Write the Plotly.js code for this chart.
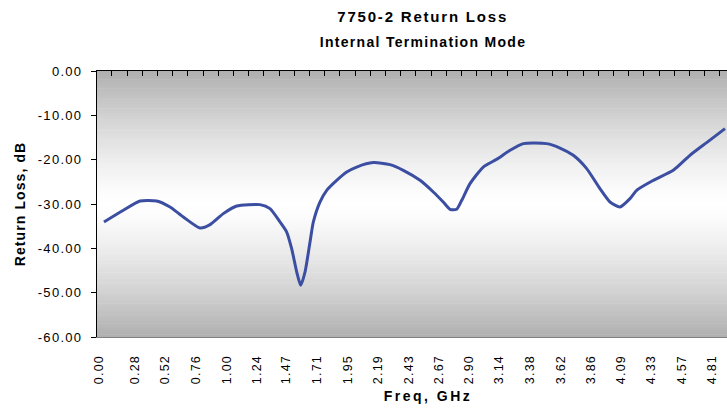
<!DOCTYPE html>
<html>
<head>
<meta charset="utf-8">
<script src="https://cdn.plot.ly/plotly-3.0.1.min.js"></script>
<style>
  html, body { margin: 0; padding: 0; overflow: hidden; background: #ffffff; }
  #chart { width: 760px; height: 408px; }
  .main-svg text { letter-spacing: 1.3px; }
  .main-svg .gtitle { letter-spacing: 1.8px; }
  .main-svg .xtitle { letter-spacing: 2.5px; }
  .main-svg .ytitle { letter-spacing: 1.1px; }
  .main-svg .xtick text { letter-spacing: 1.2px; }
</style>
</head>
<body>
<div id="chart"></div>
<script>
// Frequency (GHz) and return loss (dB)
const freqGHz = [
  0.039, 0.191, 0.322, 0.452, 0.557, 0.661, 0.792, 0.871, 0.975, 1.080,
  1.263, 1.341, 1.420, 1.472, 1.511, 1.551, 1.582, 1.616, 1.655, 1.681,
  1.733, 1.786, 1.864, 1.943, 2.021, 2.151, 2.282, 2.387, 2.518, 2.622,
  2.700, 2.753, 2.805, 2.845, 2.910, 3.014, 3.119, 3.224, 3.328, 3.511,
  3.616, 3.720, 3.825, 3.929, 4.008, 4.086, 4.165, 4.217, 4.348, 4.504,
  4.635, 4.766, 4.910
];
const returnLossDb = [
  -34.06, -31.42, -29.33, -29.33, -30.68, -32.93, -35.41, -34.65, -32.17, -30.45,
  -30.14, -31.04, -34.06, -36.32, -40.06, -45.34, -48.34, -45.34, -38.57, -34.06,
  -29.55, -26.91, -24.66, -22.78, -21.66, -20.66, -21.11, -22.40, -24.66, -27.29,
  -29.55, -31.20, -31.20, -29.17, -25.40, -21.66, -19.92, -17.89, -16.38, -16.38,
  -17.37, -19.02, -22.02, -26.53, -29.55, -30.68, -28.78, -26.91, -24.66, -22.40,
  -19.02, -16.15, -13.00
];
const xTickLabels = [
  '0.00', '0.28', '0.52', '0.76', '1.00', '1.24', '1.47', '1.71', '1.95', '2.19',
  '2.43', '2.67', '2.90', '3.14', '3.38', '3.62', '3.86', '4.09', '4.33', '4.57', '4.81'
];
const yTickValues = [0, -10, -20, -30, -40, -50, -60];
const yTickLabels = ['0.00', '-10.00', '-20.00', '-30.00', '-40.00', '-50.00', '-60.00'];

const chartTitle = '7750-2 Return Loss';
const chartSubtitle = 'Internal Termination Mode';
const xTitle = 'Freq, GHz';
const yTitle = 'Return Loss, dB';

// --- build figure ---
const xRange = [-0.0157, 5.1766];
const categoryStep = 0.11922;

// Vertical gray-white-gray background gradient made of thin strips
const strips = [];
const N = 120;
for (let i = 0; i < N; i++) {
  const t = (i + 0.5) / N;
  const d = Math.abs(t - 0.5) * 2;
  const g = Math.round(255 - 80 * Math.pow(d, 1.35));
  strips.push({
    type: 'rect', layer: 'below',
    xref: 'x domain', yref: 'y domain',
    x0: 0, x1: 1, y0: i / N, y1: (i + 1) / N + 0.002,
    line: { width: 0 },
    fillcolor: `rgb(${g},${g},${g})`
  });
}

const curve = {
  type: 'scatter', mode: 'lines',
  x: freqGHz, y: returnLossDb,
  xaxis: 'x', yaxis: 'y',
  line: { color: '#3b4ea2', width: 3, shape: 'spline', smoothing: 0.6 },
  hoverinfo: 'skip', showlegend: false
};
// draws nothing; only attaches the top (category tick) axis to the same data
const topAxisAnchor = {
  type: 'scatter', mode: 'none',
  x: freqGHz, y: returnLossDb,
  xaxis: 'x2', yaxis: 'y',
  hoverinfo: 'skip', showlegend: false
};

const baseFont = { family: 'Liberation Sans, Arial, sans-serif', color: '#000000' };

const layout = {
  width: 760, height: 408,
  margin: { l: 97, r: 1, t: 71, b: 71, pad: 0 },
  paper_bgcolor: '#ffffff', plot_bgcolor: '#ffffff',
  font: Object.assign({ size: 13 }, baseFont),
  showlegend: false,
  title: {
    text: chartTitle,
    font: Object.assign({ size: 15, weight: 'bold' }, baseFont),
    xref: 'paper', x: 0.492, xanchor: 'center',
    yref: 'container', y: 0.972, yanchor: 'top'
  },
  annotations: [{
    text: chartSubtitle, showarrow: false,
    xref: 'paper', x: 0.492, xanchor: 'center',
    yref: 'paper', y: 1.11, yanchor: 'middle',
    font: Object.assign({ size: 14, weight: 'bold' }, baseFont)
  }],
  xaxis: {
    type: 'linear', range: xRange,
    tickmode: 'array', tickvals: xTickLabels.map(Number), ticktext: xTickLabels,
    tickangle: -90, ticks: '', ticklabelstandoff: 12,
    tickfont: Object.assign({ size: 12.5 }, baseFont),
    showline: true, linecolor: '#808080', linewidth: 1,
    showgrid: false, zeroline: false,
    title: { text: xTitle, font: Object.assign({ size: 14, weight: 'bold' }, baseFont), standoff: 12 }
  },
  xaxis2: {
    type: 'linear', range: xRange, overlaying: 'x', side: 'top', anchor: 'y',
    tickmode: 'linear', tick0: -0.018, dtick: categoryStep,
    ticks: 'inside', ticklen: 5, tickcolor: '#000000', tickwidth: 1,
    showticklabels: false, showline: true, linecolor: '#000000', linewidth: 1,
    showgrid: false, zeroline: false
  },
  yaxis: {
    type: 'linear', range: [-60, 0],
    tickmode: 'array', tickvals: yTickValues, ticktext: yTickLabels,
    ticks: 'outside', ticklen: 5, tickcolor: '#000000', tickwidth: 1,
    ticklabelstandoff: 6,
    tickfont: Object.assign({ size: 13 }, baseFont),
    showline: true, linecolor: '#000000', linewidth: 1,
    showgrid: false, zeroline: false,
    title: { text: yTitle, font: Object.assign({ size: 14, weight: 'bold' }, baseFont), standoff: 16 }
  },
  shapes: strips
};

Plotly.newPlot('chart', [curve, topAxisAnchor], layout, { staticPlot: true, displayModeBar: false });
</script>
</body>
</html>
